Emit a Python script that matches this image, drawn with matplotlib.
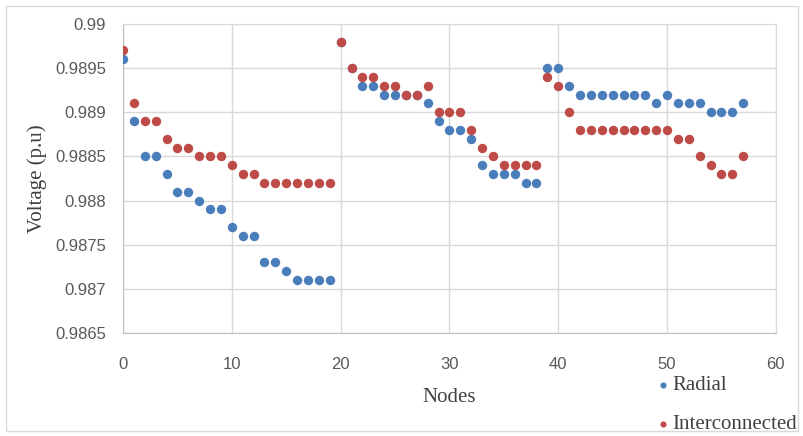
import matplotlib
matplotlib.use("Agg")
import matplotlib.pyplot as plt
from matplotlib.patches import Rectangle

# node voltages (p.u)
nodes = list(range(58))
radial = [0.9896, 0.9889, 0.9885, 0.9885, 0.9883, 0.9881, 0.9881, 0.9880, 0.9879, 0.9879,
          0.9877, 0.9876, 0.9876, 0.9873, 0.9873, 0.9872, 0.9871, 0.9871, 0.9871, 0.9871,
          0.9898, 0.9895, 0.9893, 0.9893, 0.9892, 0.9892, 0.9892, 0.9892, 0.9891, 0.9889,
          0.9888, 0.9888, 0.9887, 0.9884, 0.9883, 0.9883, 0.9883, 0.9882, 0.9882, 0.9895,
          0.9895, 0.9893, 0.9892, 0.9892, 0.9892, 0.9892, 0.9892, 0.9892, 0.9892, 0.9891,
          0.9892, 0.9891, 0.9891, 0.9891, 0.9890, 0.9890, 0.9890, 0.9891]
interconnected = [0.9897, 0.9891, 0.9889, 0.9889, 0.9887, 0.9886, 0.9886, 0.9885, 0.9885, 0.9885,
                  0.9884, 0.9883, 0.9883, 0.9882, 0.9882, 0.9882, 0.9882, 0.9882, 0.9882, 0.9882,
                  0.9898, 0.9895, 0.9894, 0.9894, 0.9893, 0.9893, 0.9892, 0.9892, 0.9893, 0.9890,
                  0.9890, 0.9890, 0.9888, 0.9886, 0.9885, 0.9884, 0.9884, 0.9884, 0.9884, 0.9894,
                  0.9893, 0.9890, 0.9888, 0.9888, 0.9888, 0.9888, 0.9888, 0.9888, 0.9888, 0.9888,
                  0.9888, 0.9887, 0.9887, 0.9885, 0.9884, 0.9883, 0.9883, 0.9885]

xticks = [0, 10, 20, 30, 40, 50, 60]
yticks = [0.9865, 0.987, 0.9875, 0.988, 0.9885, 0.989, 0.9895, 0.99]
ytick_labels = ["0.9865", "0.987", "0.9875", "0.988", "0.9885", "0.989", "0.9895", "0.99"]

blue = "#4a7ebb"
red = "#be4b48"
grid = "#d9d9d9"
tick_font = ["Liberation Sans", "DejaVu Sans"]
serif = ["Liberation Serif", "DejaVu Serif"]

fig = plt.figure(figsize=(8.04, 4.36), dpi=100)
ax = fig.add_axes([0.153, 0.236, 0.812, 0.709])

ax.scatter(nodes, radial, s=46, color=blue, label="Radial", zorder=3, linewidths=0)
ax.scatter(nodes, interconnected, s=46, color=red, label="Interconnected", zorder=4, linewidths=0)

ax.set_xlim(0, 60)
ax.set_ylim(0.9865, 0.99)
ax.set_xticks(xticks)
ax.set_yticks(yticks)
ax.set_yticklabels(ytick_labels)
ax.grid(True, color=grid, linewidth=1)
ax.set_axisbelow(True)
for s in ax.spines.values():
    s.set_color(grid)
ax.spines["left"].set_color("#bfbfbf")
ax.spines["bottom"].set_color("#bfbfbf")
ax.tick_params(length=0, labelcolor="#595959", labelsize=12)
ax.tick_params(axis="y", pad=12)
ax.tick_params(axis="x", pad=17)
for lab in ax.get_xticklabels() + ax.get_yticklabels():
    lab.set_family(tick_font)

ax.set_xlabel("Nodes", family=serif, fontsize=15, color="#404040", labelpad=12)
ax.set_ylabel("Voltage (p.u)", family=serif, fontsize=15, color="#404040", labelpad=6)

leg = ax.legend(loc="upper left", bbox_to_anchor=(0.806, 0.158), bbox_transform=fig.transFigure,
                frameon=False, markerscale=0.65, handletextpad=0.15, labelspacing=0.95,
                prop={"family": serif, "size": 15}, borderaxespad=0, handlelength=0.6)
for t in leg.get_texts():
    t.set_color("#404040")

fig.patches.append(Rectangle((0.008, 0.012), 0.984, 0.974, transform=fig.transFigure,
                             fill=False, edgecolor=grid, linewidth=1))

fig.savefig("out.png", dpi=100)
